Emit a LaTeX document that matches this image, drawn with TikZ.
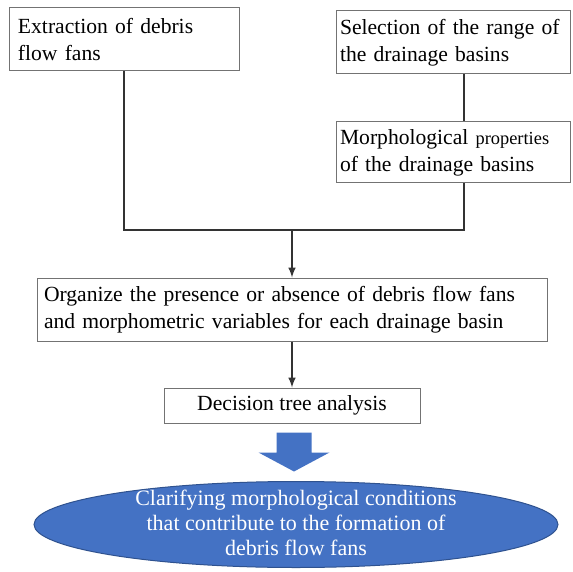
\documentclass[tikz,border=0pt]{standalone}
\usepackage{fontspec}
\setmainfont{Liberation Serif}
\usepackage{tikz}
\usetikzlibrary{positioning,arrows,shapes.geometric,calc}
\definecolor{fanblue}{HTML}{4472C4}
\definecolor{fanedge}{HTML}{2F528F}
\tikzset{
box/.style={
  draw=black!55,
  line width=0.5pt,
  rectangle,
  align=left,
  inner xsep=4.5pt,
  inner ysep=0pt,
  minimum height=31.5pt,
  font=\fontsize{10.8}{13.5}\selectfont
},
sidebox/.style={box, text width=113pt, inner xsep=2pt},
link/.style={draw=black!80, line width=0.7pt},
goal/.style={ellipse, fill=fanblue, draw=fanedge, line width=0.5pt,
  minimum width=262pt, minimum height=43pt, inner sep=0pt},
}

\begin{document}
\begin{tikzpicture}[x=0.5pt,y=-0.5pt]
    \useasboundingbox (0,0) rectangle (572,572);
    \node[box, text width=106pt] (extr) at (124,39.5) {Extraction of debris\\flow fans};
    \node[sidebox] (sel) at (453,42.5) {Selection of the range of\\the drainage basins};
    \node[sidebox, minimum height=30.5pt] (morph) at (453,152.5) {Morphological {\fontsize{9.2}{13.5}\selectfont properties}\\of the drainage basins};
    \node[box, text width=248pt, inner xsep=3.5pt] (org) at (292,309.5) {Organize the presence or absence of debris flow fans\\and morphometric variables for each drainage basin};
    \node[box, align=center, minimum width=128pt, minimum height=17.5pt] (dta) at (292,405.5) {Decision tree analysis};
    \node[goal] (goal) at (296,524.5) {};
    \node[text=white, align=center, font=\fontsize{11}{12.5}\selectfont] (goaltext) at ([yshift=1pt]goal.center) {Clarifying morphological conditions\\that contribute to the formation of\\debris flow fans};
    \coordinate (j) at (292,230);
    \draw[link] (extr.south) |- (j);
    \draw[link] ([xshift=5.5pt]sel.south) -- ([xshift=5.5pt]morph.north);
    \draw[link] ([xshift=5.5pt]morph.south) |- (j);
    \draw[link,-latex] (j) -- (org.north);
    \draw[link,-latex] (org.south) -- (dta.north);
    % block arrow down to the result
    \coordinate (bt) at ($(dta.south)+(2,9)$);
    \fill[fanblue] ($(bt)+(-17.5,0)$) -- ($(bt)+(17.5,0)$) -- ($(bt)+(17.5,20)$) -- ($(bt)+(35.5,20)$)
        -- ($(bt)+(0,39)$) -- ($(bt)+(-35.5,20)$) -- ($(bt)+(-17.5,20)$) -- cycle;
\end{tikzpicture}
\end{document}
